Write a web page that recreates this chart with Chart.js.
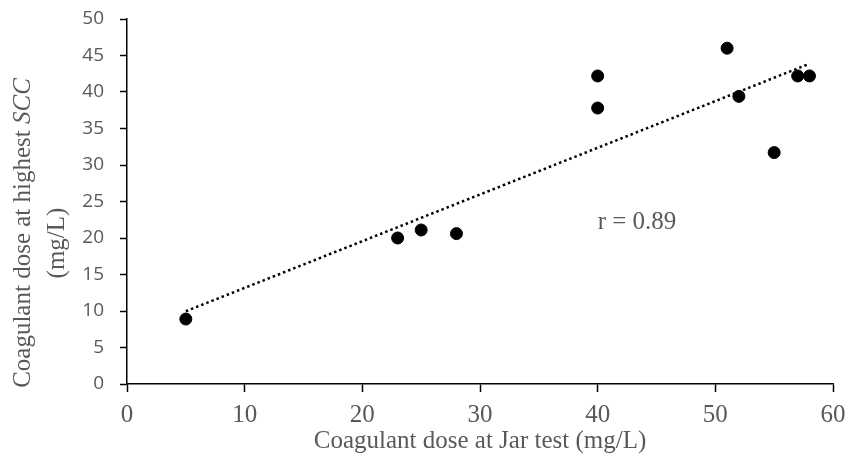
<!DOCTYPE html>
<html>
<head>
<meta charset="utf-8">
<script src="https://cdn.jsdelivr.net/npm/chart.js@4"></script>
<style>
  body { margin: 0; background: #fff; }
</style>
</head>
<body>
<canvas id="scc" width="850" height="470"></canvas>
<script>
// valeurs
const jarDose = [5, 23, 25, 28, 40, 40, 51, 52, 55, 57, 58];
const sccDose = [8.9, 20.0, 21.1, 20.6, 42.2, 37.8, 46.0, 39.4, 31.7, 42.2, 42.2];
const xTicks = [0, 10, 20, 30, 40, 50, 60];
const yTicks = [0, 5, 10, 15, 20, 25, 30, 35, 40, 45, 50];
const rLabel = "r = 0.89";

const points = jarDose.map((x, i) => ({ x, y: sccDose[i] }));

// droite de tendance (moindres carrés sur les points)
const n = jarDose.length;
const mx = jarDose.reduce((a, b) => a + b, 0) / n;
const my = sccDose.reduce((a, b) => a + b, 0) / n;
let sxy = 0, sxx = 0;
jarDose.forEach((x, i) => { sxy += (x - mx) * (sccDose[i] - my); sxx += (x - mx) * (x - mx); });
const slope = sxy / sxx;
const icpt = my - slope * mx;
const xMin = Math.min(...jarDose), xMax = Math.max(...jarDose);
const trend = [{ x: xMin, y: icpt + slope * xMin }, { x: xMax, y: icpt + slope * xMax }];

const grey = "#595959";
const serif = "'Liberation Serif', 'Times New Roman', serif";

// titre de l'axe Y (deux lignes, SCC en italique) + étiquette r
const extraText = {
  id: "extraText",
  afterDraw(chart) {
    const ctx = chart.ctx;
    const { x, y } = chart.scales;
    ctx.save();
    ctx.fillStyle = grey;
    ctx.textBaseline = "middle";
    ctx.font = "25px " + serif;
    ctx.textAlign = "left";
    ctx.fillText(rLabel, x.getPixelForValue(40), y.getPixelForValue(22.2));

    // titre vertical
    ctx.translate(23, 233);
    ctx.rotate(-Math.PI / 2);
    const part1 = "Coagulant dose at highest ";
    const part2 = "SCC";
    ctx.font = "25px " + serif;
    const w1 = ctx.measureText(part1).width;
    ctx.font = "italic 25px " + serif;
    const w2 = ctx.measureText(part2).width;
    let start = -(w1 + w2) / 2;
    ctx.font = "25px " + serif;
    ctx.fillText(part1, start, 0);
    ctx.font = "italic 25px " + serif;
    ctx.fillText(part2, start + w1, 0);
    ctx.font = "25px " + serif;
    ctx.textAlign = "center";
    ctx.fillText("(mg/L)", -10, 34);
    ctx.restore();
  }
};

new Chart(document.getElementById("scc"), {
  type: "scatter",
  data: {
    datasets: [
      {
        label: "points",
        data: points,
        backgroundColor: "#000",
        borderColor: "#000",
        pointRadius: 6,
        pointHoverRadius: 6
      },
      {
        label: "tendance",
        type: "line",
        data: trend,
        borderColor: "#000",
        borderWidth: 2.5,
        borderDash: [2.5, 3],
        pointRadius: 0,
        fill: false
      }
    ]
  },
  options: {
    responsive: false,
    animation: false,
    layout: { padding: { top: 19, right: 17, left: 0, bottom: 0 }, autoPadding: false },
    plugins: { legend: { display: false }, tooltip: { enabled: false } },
    scales: {
      x: {
        type: "linear",
        min: 0, max: 60,
        afterBuildTicks: s => { s.ticks = xTicks.map(v => ({ value: v })); },
        afterFit: s => { s.height = 86; s.paddingLeft = 0; s.paddingRight = 0; },
        border: { display: true, color: "#000", width: 1.5 },
        grid: { drawOnChartArea: false, color: "#000", tickLength: 8, tickWidth: 1.5 },
        ticks: { color: grey, padding: 8, font: { family: serif, size: 25 } },
        title: {
          display: true,
          text: "Coagulant dose at Jar test (mg/L)",
          color: grey,
          padding: { top: 14, bottom: 14 },
          font: { family: serif, size: 25 }
        }
      },
      y: {
        type: "linear",
        min: 0, max: 50,
        afterBuildTicks: s => { s.ticks = yTicks.map(v => ({ value: v })); },
        afterFit: s => { s.width = 127; s.paddingTop = 0; s.paddingBottom = 0; },
        border: { display: true, color: "#000", width: 1.5 },
        grid: { drawOnChartArea: false, color: "#000", tickLength: 7, tickWidth: 1.5 },
        ticks: { color: grey, padding: 16, font: { family: "'Open Sans', sans-serif", size: 19 } }
      }
    }
  },
  plugins: [extraText]
});
</script>
</body>
</html>
